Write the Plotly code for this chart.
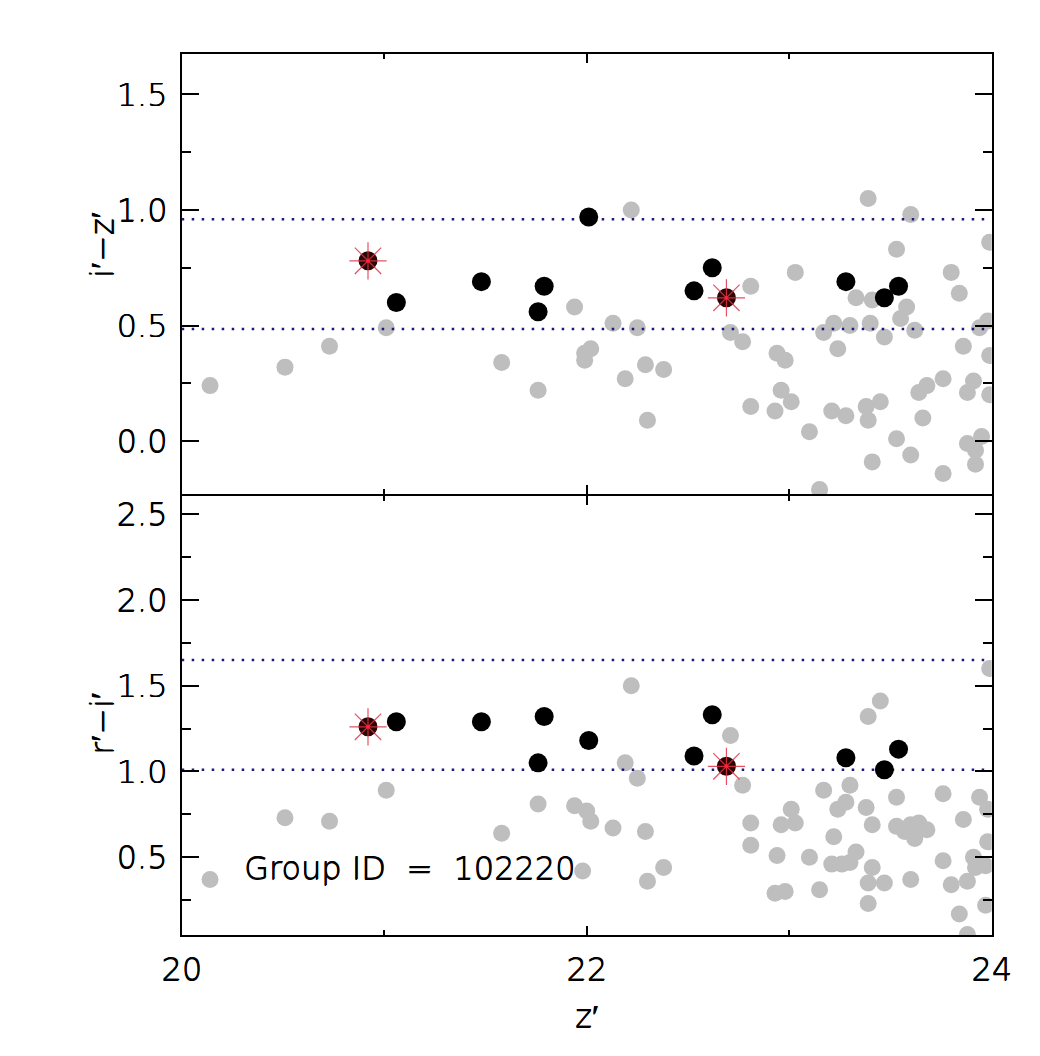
import plotly.graph_objects as go

# ---------------- data ----------------
X_RANGE = [20, 24]
TOP_Y_RANGE = [-0.229, 1.675]
BOT_Y_RANGE = [0.047, 2.605]

# top panel: i'-z' vs z'
TOP_GRAY_X = [20.14, 20.51, 20.73, 21.01, 21.58, 21.76, 21.94, 21.99, 22.02, 21.99,
              22.22, 22.13, 22.25, 22.29, 22.38, 22.19, 22.30, 22.81, 22.71, 22.77,
              23.03, 22.94, 22.98, 22.96, 23.01, 22.93, 22.81, 23.10, 23.15, 23.17,
              23.22, 23.24, 23.30, 23.33, 23.40, 23.41, 23.39, 23.47, 23.53, 23.58,
              23.55, 23.62, 23.60, 23.21, 23.28, 23.38, 23.39, 23.45, 23.41, 23.53,
              23.60, 23.66, 23.64, 23.68, 23.76, 23.80, 23.84, 23.86, 23.94, 23.98,
              23.88, 23.91, 23.99, 23.99, 23.88, 23.92, 23.92, 23.95, 23.76, 23.99]
TOP_GRAY_Y = [0.24, 0.32, 0.41, 0.49, 0.34, 0.22, 0.58, 0.38, 0.40, 0.35,
              1.00, 0.51, 0.49, 0.33, 0.31, 0.27, 0.09, 0.67, 0.47, 0.43,
              0.73, 0.38, 0.35, 0.22, 0.17, 0.13, 0.15, 0.04, -0.21, 0.47,
              0.51, 0.40, 0.50, 0.62, 0.51, 0.61, 1.05, 0.45, 0.83, 0.58,
              0.53, 0.48, 0.98, 0.13, 0.11, 0.15, 0.09, 0.17, -0.09, 0.01,
              -0.06, 0.10, 0.21, 0.24, 0.27, 0.73, 0.64, 0.41, 0.49, 0.52,
              0.21, 0.26, 0.37, 0.20, -0.01, -0.04, -0.10, 0.02, -0.14, 0.86]

MEMBER_X = [21.06, 21.48, 21.79, 21.76, 22.01, 22.62, 22.53, 23.28, 23.47, 23.54]
TOP_MEMBER_Y = [0.60, 0.69, 0.67, 0.56, 0.97, 0.75, 0.65, 0.69, 0.62, 0.67]
BOT_MEMBER_Y = [1.29, 1.29, 1.32, 1.05, 1.18, 1.33, 1.09, 1.08, 1.01, 1.13]

STAR_X = [20.92, 22.69]
TOP_STAR_Y = [0.78, 0.62]
BOT_STAR_Y = [1.26, 1.03]

TOP_LIMITS = [0.96, 0.485]
BOT_LIMITS = [1.65, 1.01]

# bottom panel: r'-i' vs z'
BOT_GRAY_X = [20.14, 20.51, 20.73, 21.01, 21.58, 21.76, 21.94, 22.00, 22.02, 21.98,
              22.22, 22.19, 22.25, 22.13, 22.29, 22.38, 22.30, 22.71, 22.77, 22.81,
              22.81, 22.94, 22.96, 23.01, 23.03, 22.93, 22.98, 23.10, 23.15, 23.17,
              23.22, 23.24, 23.28, 23.30, 23.21, 23.26, 23.30, 23.33, 23.39, 23.45,
              23.38, 23.41, 23.41, 23.39, 23.47, 23.39, 23.53, 23.53, 23.57, 23.62,
              23.60, 23.64, 23.68, 23.60, 23.76, 23.76, 23.80, 23.86, 23.88, 23.84,
              23.91, 23.94, 23.97, 23.92, 23.94, 23.98, 23.98, 23.97, 23.99, 23.88]
BOT_GRAY_Y = [0.37, 0.73, 0.71, 0.89, 0.64, 0.81, 0.80, 0.77, 0.71, 0.42,
              1.50, 1.05, 0.96, 0.67, 0.65, 0.44, 0.36, 1.21, 0.92, 0.70,
              0.57, 0.51, 0.69, 0.78, 0.70, 0.29, 0.30, 0.50, 0.31, 0.89,
              0.62, 0.78, 0.82, 0.92, 0.46, 0.46, 0.47, 0.53, 1.32, 1.41,
              0.79, 0.69, 0.44, 0.35, 0.35, 0.23, 0.85, 0.68, 0.65, 0.61,
              0.69, 0.70, 0.66, 0.37, 0.87, 0.48, 0.34, 0.72, 0.36, 0.17,
              0.50, 0.46, 0.45, 0.44, 0.85, 0.78, 0.59, 0.22, 1.60, 0.05]

X_TICKS = [20, 22, 24]
GROUP_LABEL = "Group ID\u00a0\u00a0=\u00a0\u00a0102220"

# ---------------- figure ----------------
# the page body has an 8px margin, so the figure origin sits at (8, 8) in the window
W, H = 1032, 1048
FONT = dict(family="DejaVu Sans", size=32, color="black", weight=200,
            shadow="0.6px 0px 0px black, 0px 0.5px 0px black")
GRAY = "#bebebe"
NAVY = "#1a1a80"
STAR_RED = "rgba(225,50,70,0.85)"

fig = go.Figure()


def add_panel(xa, ya, gx, gy, my, sy, limits):
    fig.add_trace(go.Scatter(x=gx, y=gy, mode="markers", xaxis=xa, yaxis=ya,
                             marker=dict(size=17, color=GRAY, line=dict(width=0)),
                             showlegend=False, hoverinfo="skip"))
    for lv in limits:
        fig.add_trace(go.Scatter(x=X_RANGE, y=[lv, lv], mode="lines", xaxis=xa, yaxis=ya,
                                 line=dict(color=NAVY, width=2.5, dash="2.5px,7.5px"),
                                 showlegend=False, hoverinfo="skip"))
    fig.add_trace(go.Scatter(x=MEMBER_X, y=my, mode="markers", xaxis=xa, yaxis=ya,
                             marker=dict(size=19, color="black", line=dict(width=0)),
                             showlegend=False, hoverinfo="skip"))
    fig.add_trace(go.Scatter(x=STAR_X, y=sy, mode="markers", xaxis=xa, yaxis=ya,
                             marker=dict(size=19, color="#2a0606", line=dict(width=0)),
                             showlegend=False, hoverinfo="skip"))
    fig.add_trace(go.Scatter(x=STAR_X, y=sy, mode="markers", xaxis=xa, yaxis=ya,
                             marker=dict(symbol="asterisk-open", size=31, color=STAR_RED,
                                         line=dict(color=STAR_RED, width=1.2)),
                             showlegend=False, hoverinfo="skip"))
    fig.add_trace(go.Scatter(x=STAR_X, y=sy, mode="markers", xaxis=xa, yaxis=ya,
                             marker=dict(size=4, color="#ff2030", line=dict(width=0)),
                             showlegend=False, hoverinfo="skip"))


add_panel("x", "y", TOP_GRAY_X, TOP_GRAY_Y, TOP_MEMBER_Y, TOP_STAR_Y, TOP_LIMITS)
add_panel("x2", "y2", BOT_GRAY_X, BOT_GRAY_Y, BOT_MEMBER_Y, BOT_STAR_Y, BOT_LIMITS)


def py(p):  # figure pixel row -> paper y
    return (H - p) / H


XDOM = [173.7 / W, 983.7 / W]
TOP_DOM = [py(486), py(46)]
BOT_DOM = [py(927), py(488)]

common_x = dict(range=X_RANGE, showgrid=False, zeroline=False, showline=True,
                linecolor="black", linewidth=2, mirror="ticks", ticks="inside",
                ticklen=9, tickwidth=2, tickcolor="black", tickvals=X_TICKS,
                minor=dict(ticks="inside", ticklen=5, tickwidth=2, tickcolor="black", dtick=1),
                domain=XDOM, tickfont=FONT, automargin=False)
common_y = dict(showgrid=False, zeroline=False, showline=True, linecolor="black",
                linewidth=2, mirror="ticks", ticks="inside", ticklen=17, tickwidth=2,
                tickcolor="black", dtick=0.5, tickformat=".1f", tickfont=FONT,
                minor=dict(ticks="inside", ticklen=9, tickwidth=2, tickcolor="black", dtick=0.25),
                ticklabelstandoff=6, automargin=False)

fig.update_layout(
    template="none",
    width=W, height=H, autosize=False,
    margin=dict(l=0, r=0, t=0, b=0, pad=0),
    paper_bgcolor="white", plot_bgcolor="white",
    font=FONT,
    xaxis=dict(common_x, anchor="y", showticklabels=False),
    xaxis2=dict(common_x, anchor="y2", showticklabels=True, ticklabelstandoff=5),
    yaxis=dict(common_y, range=TOP_Y_RANGE, domain=TOP_DOM, anchor="x", tick0=0),
    yaxis2=dict(common_y, range=BOT_Y_RANGE, domain=BOT_DOM, anchor="x2", tick0=0.5),
)

fig.add_annotation(text="i\u2032\u2212z\u2032", xref="paper", yref="paper",
                   x=94 / W, y=py(237), xanchor="center", yanchor="middle",
                   textangle=-90, showarrow=False, font=FONT)
fig.add_annotation(text="r\u2032\u2212i\u2032", xref="paper", yref="paper",
                   x=94 / W, y=py(716), xanchor="center", yanchor="middle",
                   textangle=-90, showarrow=False, font=FONT)
fig.add_annotation(text="z\u2032", xref="paper", yref="paper",
                   x=579 / W, y=py(1008), xanchor="center", yanchor="middle",
                   showarrow=False, font=FONT)
fig.add_annotation(text=GROUP_LABEL, xref="x2", yref="y2", x=20.30, y=0.44,
                   xanchor="left", yanchor="middle", showarrow=False, font=FONT)

fig.write_html("out.html")
